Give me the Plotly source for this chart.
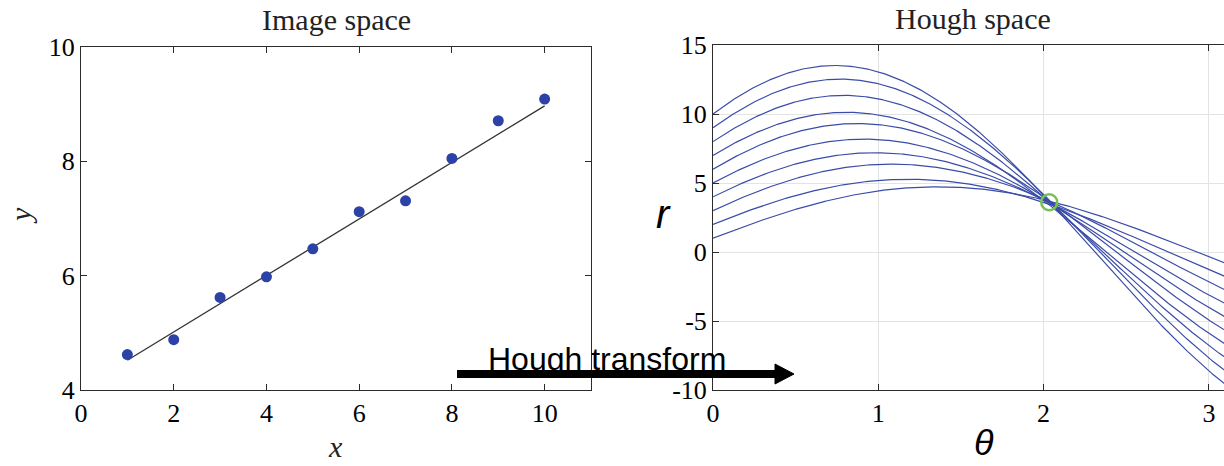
import numpy as np
import plotly.graph_objects as go

# ---- data ----
pts_x = [1, 2, 3, 4, 5, 6, 7, 8, 9, 10]
pts_y = [4.62, 4.88, 5.62, 5.98, 6.47, 7.12, 7.31, 8.05, 8.71, 9.09]
fit_x = [1, 10]
fit_y = [4.52, 8.97]
peak_theta = [2.034]
peak_r = [3.60]

img_xticks = [0, 2, 4, 6, 8, 10]
img_yticks = [4, 6, 8, 10]
hough_xticks = [0, 1, 2, 3]
hough_yticks = [15, 10, 5, 0, -5, -10]
hough_yticktext = ["15", "10", "5", "0", "-5", "-10"]

W, H = 1224, 466
SERIF = "Liberation Serif"
SANS = "Liberation Sans"
AXC = "#2b2b2b"
BLUE_PT = "#2c42a6"
BLUE_LN = "#3a4ca8"

def px(x):
    return x / W

def py(y):
    return 1 - y / H

fig = go.Figure()

# left: image space
fig.add_trace(go.Scatter(x=fit_x, y=fit_y, mode="lines",
                         line=dict(color="#333333", width=1.3),
                         xaxis="x", yaxis="y", hoverinfo="skip"))
fig.add_trace(go.Scatter(x=pts_x, y=pts_y, mode="markers",
                         marker=dict(color=BLUE_PT, size=11),
                         xaxis="x", yaxis="y"))

# right: hough space, one sinusoid per point
theta = np.linspace(0, np.pi, 400)
for xi, yi in zip(pts_x, pts_y):
    r = xi * np.cos(theta) + yi * np.sin(theta)
    fig.add_trace(go.Scatter(x=theta, y=r, mode="lines",
                             line=dict(color=BLUE_LN, width=1.2),
                             xaxis="x2", yaxis="y2", hoverinfo="skip"))
fig.add_trace(go.Scatter(x=peak_theta, y=peak_r, mode="markers",
                         marker=dict(symbol="circle-open", size=16, color="#76c255",
                                     line=dict(width=2.5, color="#76c255")),
                         xaxis="x2", yaxis="y2"))
fig.add_trace(go.Scatter(x=[], y=[], xaxis="x3", yaxis="y2", showlegend=False))

tickfont = dict(family=SERIF, size=26, color="black")
left_dom_x = [px(81), px(591)]
dom_y = [py(390), py(47)]
right_dom_x = [px(713), 1.0]
right_dom_y = [py(390), py(45)]
hough_xmax = (W - 713) / 165.3

common = dict(ticks="inside", ticklen=6, tickcolor=AXC, showline=True, linecolor=AXC,
              linewidth=1, zeroline=False, automargin=False)

fig.update_layout(
    width=W, height=H,
    margin=dict(l=0, r=0, t=0, b=0),
    paper_bgcolor="white", plot_bgcolor="white",
    showlegend=False,
    xaxis=dict(domain=left_dom_x, range=[0, 11], tickvals=img_xticks,
               mirror="ticks", showgrid=False, tickfont=tickfont, anchor="y", **common),
    yaxis=dict(domain=dom_y, range=[4, 10], tickvals=img_yticks,
               mirror="ticks", showgrid=False, tickfont=tickfont, anchor="x", **common),
    xaxis2=dict(domain=right_dom_x, range=[0, hough_xmax], tickvals=hough_xticks,
                mirror=False, showgrid=True, gridcolor="#e3e3e3",
                tickfont=tickfont, anchor="y2", **common),
    xaxis3=dict(overlaying="x2", matches="x2", side="top", anchor="y2",
                tickvals=hough_xticks, showgrid=False, showticklabels=False, **common),
    yaxis2=dict(domain=right_dom_y, range=[-10, 15], tickvals=hough_yticks,
                ticktext=hough_yticktext, mirror=False, showgrid=True, gridcolor="#e3e3e3",
                tickfont=tickfont, anchor="x2", **common),
)

ann = [
    dict(text="Image space", x=px(336), y=py(20), yanchor="middle",
         font=dict(family=SERIF, size=30, color="#222")),
    dict(text="Hough space", x=px(973), y=py(18), yanchor="middle",
         font=dict(family=SERIF, size=30, color="#222")),
    dict(text="<i>x</i>", x=px(335), y=py(465), yanchor="bottom",
         font=dict(family=SERIF, size=30, color="#222")),
    dict(text="<i>y</i>", x=px(20), y=py(216), yanchor="middle", textangle=-90,
         font=dict(family=SERIF, size=30, color="#222")),
    dict(text="<i>r</i>", x=px(663), y=py(214), yanchor="middle",
         font=dict(family=SANS, size=40, color="black")),
    dict(text="<i>θ</i>", x=px(984), y=py(465), yanchor="bottom",
         font=dict(family=SANS, size=36, color="black")),
    dict(text="Hough transform", x=px(607), y=py(359), yanchor="middle",
         font=dict(family=SANS, size=32, color="black")),
]
for a in ann:
    a.update(xref="paper", yref="paper", showarrow=False, xanchor="center")
fig.update_layout(annotations=ann)

# arrow under the "Hough transform" label
shapes = [
    dict(type="line", xref="paper", yref="paper", x0=px(457), x1=px(778), y0=py(374), y1=py(374),
         line=dict(color="black", width=8), layer="above"),
    dict(type="path", xref="paper", yref="paper",
         path=f"M {px(775)},{py(364)} L {px(794)},{py(374)} L {px(775)},{py(384)} Z",
         fillcolor="black", line=dict(color="black", width=1), layer="above"),
]
fig.update_layout(shapes=shapes)

fig.write_html("out.html")
